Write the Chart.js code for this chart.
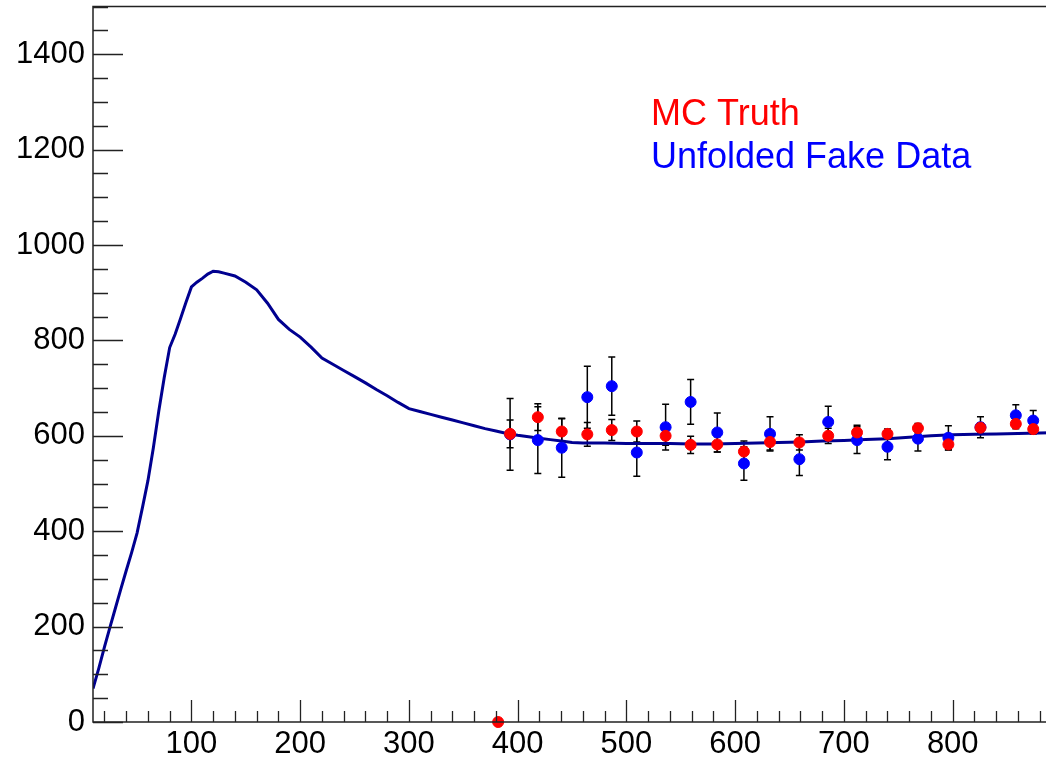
<!DOCTYPE html>
<html><head><meta charset="utf-8">
<script src="https://cdn.jsdelivr.net/npm/chart.js@4.4.0/dist/chart.umd.min.js"></script>
<style>
html,body{margin:0;padding:0;background:#fff;overflow:hidden;width:1046px;height:762px;}
#wrap{position:relative;width:1068px;height:762px;}
canvas{display:block;}
</style></head><body>
<div id="wrap"><canvas id="c" width="1068" height="762"></canvas></div>
<script>
// MC truth fine-binned curve
const curveX = [9.5,15,20,25,30,35,40,45,50,55,60,65,70,75,80,85,90,95,100,105,110,115,120,125,130,140,150,160,170,180,190,200,210,220,230,240,250,260,270,280,290,300,310,320,330,340,350,360,370,380,390,400,410,420,430,440,450,460,480,500,520,540,560,580,600,620,640,660,680,700,720,740,760,780,800,820,840,860,880,900];
const curveY = [70,114,157,198,238,278,317,355,396,450,506,575,652,722,785,813,846,880,912,922,930,939,945,944,941,935,922,906,878,844,823,807,786,763,750,737,724,711,697,684,670,657,651,645,639,633,627,621,615,610,605,601,598,595,592,589,586,585,585,584,584,584,583,583,584,585,586,587,589,590,592,594,597,600,602,603,604,605,606,607];
// coarse bins with error bars
const binX      = [382, 393, 418.5, 440.5, 464, 486.5, 509.5, 536, 559, 583.5, 608, 632, 659, 685.5, 712, 740, 768, 796, 825.5, 858, 874];
const truthY    = [0, 604, 639, 609, 603, 612, 609, 600, 581, 582, 567, 587, 586, 600, 607, 604, 616, 582, 617, 625, 614];
const truthErr  = [0, 29, 28, 27, 25, 22, 22, 20, 18, 16, 22, 17, 16, 16, 15, 10, 10, 12, 10, 10, 10];
const unfoldY   = [null, 603, 591, 575, 681, 704, 565, 618, 671, 607, 542, 604, 551, 629, 591, 577, 594, 596, 618, 643, 632];
const unfoldErr = [null, 75, 70, 62, 65, 61, 50, 48, 47, 41, 35, 36, 34, 33, 28, 27, 26, 25, 22, 22, 21];
// axes
const xTickValues = [100, 200, 300, 400, 500, 600, 700, 800];
const yTickValues = [0, 200, 400, 600, 800, 1000, 1200, 1400];
const legendLabels = ['MC Truth', 'Unfolded Fake Data'];
const legendColors = ['#ff0000', '#0000ff'];

const FONT = "'Liberation Sans', Arial, Helvetica, sans-serif";

const rootPlugin = {
  id: 'rootStyle',
  beforeDatasetsDraw(chart) {
    const ctx = chart.ctx, xs = chart.scales.x, ys = chart.scales.y;
    ctx.save();
    ctx.strokeStyle = '#000';
    ctx.lineWidth = 1.5;
    const cap = 3.5;
    const drawErr = (x, y, e) => {
      if (y === null || !e) return;
      const px = xs.getPixelForValue(x);
      const p1 = ys.getPixelForValue(y + e), p2 = ys.getPixelForValue(y - e);
      ctx.beginPath();
      ctx.moveTo(px, p1); ctx.lineTo(px, p2);
      ctx.moveTo(px - cap, p1); ctx.lineTo(px + cap, p1);
      ctx.moveTo(px - cap, p2); ctx.lineTo(px + cap, p2);
      ctx.stroke();
    };
    binX.forEach((x, i) => { drawErr(x, unfoldY[i], unfoldErr[i]); });
    binX.forEach((x, i) => { drawErr(x, truthY[i], truthErr[i]); });
    ctx.restore();
  },
  afterDraw(chart) {
    const ctx = chart.ctx, a = chart.chartArea, xs = chart.scales.x, ys = chart.scales.y;
    ctx.save();
    ctx.strokeStyle = '#222';
    ctx.lineWidth = 1.5;
    ctx.beginPath();
    ctx.rect(a.left, a.top, a.right - a.left, a.bottom - a.top);
    ctx.stroke();
    ctx.lineWidth = 1.3;
    ctx.beginPath();
    for (let v = ys.min; v <= ys.max; v += 50) {
      const py = Math.round(ys.getPixelForValue(v)) + 0.5;
      const len = yTickValues.includes(v) ? 30 : 15;
      ctx.moveTo(a.left, py); ctx.lineTo(a.left + len, py);
    }
    for (let v = 20; v <= xs.max; v += 20) {
      const px = Math.round(xs.getPixelForValue(v)) + 0.5;
      const len = xTickValues.includes(v) ? 22 : 11;
      ctx.moveTo(px, a.bottom); ctx.lineTo(px, a.bottom - len);
    }
    ctx.stroke();
    ctx.font = '36px ' + FONT;
    ctx.textBaseline = 'alphabetic';
    ctx.textAlign = 'left';
    legendLabels.forEach((t, i) => {
      ctx.fillStyle = legendColors[i];
      ctx.fillText(t, 651, 125 + i * 43.3);
    });
    ctx.restore();
  }
};

const noPad = s => { s.paddingTop = 0; s.paddingBottom = 0; s.paddingLeft = 0; s.paddingRight = 0; };

new Chart(document.getElementById('c'), {
  type: 'scatter',
  data: {
    datasets: [
      {
        label: legendLabels[0],
        data: binX.map((x, i) => ({ x: x, y: truthY[i] })),
        backgroundColor: '#ff0000', borderColor: '#ff0000',
        pointRadius: 5.5, pointHoverRadius: 5.5, showLine: false, clip: false
      },
      {
        label: legendLabels[1],
        data: binX.map((x, i) => ({ x: x, y: unfoldY[i] })),
        backgroundColor: '#0000ff', borderColor: '#0000ff',
        pointRadius: 5.5, pointHoverRadius: 5.5, showLine: false
      },
      {
        type: 'line',
        label: 'MC Truth (fine)',
        data: curveX.map((x, i) => ({ x: x, y: curveY[i] })),
        borderColor: '#000090', borderWidth: 3, pointRadius: 0, tension: 0, fill: false
      }
    ]
  },
  options: {
    responsive: false,
    animation: false,
    events: [],
    layout: { padding: { top: 5, left: 0, right: 0, bottom: 0 } },
    plugins: { legend: { display: false }, tooltip: { enabled: false } },
    scales: {
      x: {
        type: 'linear', min: 9.5, max: 900,
        grid: { display: false, drawTicks: false },
        border: { display: false },
        afterFit: s => { s.height = 40; noPad(s); },
        afterBuildTicks: s => { s.ticks = xTickValues.map(v => ({ value: v })); },
        ticks: { color: '#000', font: { family: FONT, size: 31 }, padding: 4, maxRotation: 0, autoSkip: false, callback: v => String(v) }
      },
      y: {
        min: 0, max: 1500,
        grid: { display: false, drawTicks: false },
        border: { display: false },
        afterFit: s => { s.width = 93; noPad(s); },
        afterBuildTicks: s => { s.ticks = yTickValues.map(v => ({ value: v })); },
        ticks: { color: '#000', font: { family: FONT, size: 31 }, padding: 8, callback: v => String(v) }
      }
    }
  },
  plugins: [rootPlugin]
});
</script>
</body></html>
